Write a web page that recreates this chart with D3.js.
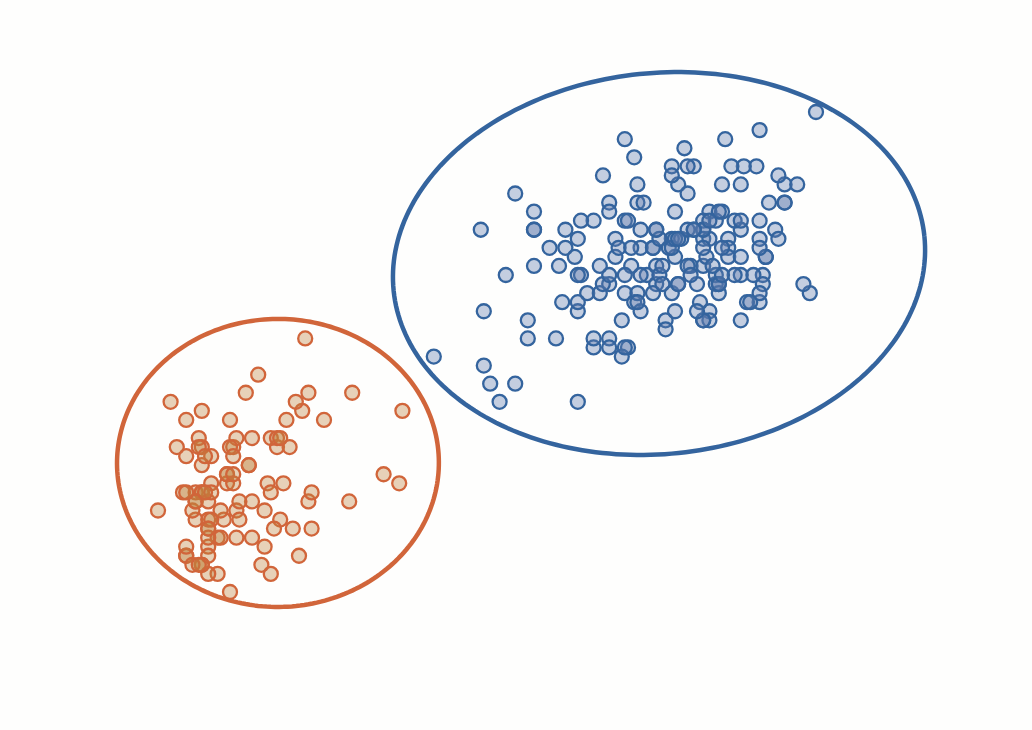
<!DOCTYPE html>
<html>
<head>
<meta charset="utf-8">
<script src="https://cdn.jsdelivr.net/npm/d3@7"></script>
<style>
  body { margin: 0; background: #fefefd; }
  svg { display: block; }
</style>
</head>
<body>
<div id="chart"></div>
<script>

// eruption length (min) and waiting time (min), one entry per eruption
var eruptions = [
  3.600,1.800,3.333,2.283,4.533,2.883,4.700,3.600,1.950,4.350,
  1.833,3.917,4.200,1.750,4.700,2.167,1.750,4.800,1.600,4.250,
  1.800,1.750,3.450,3.067,4.533,3.600,1.967,4.083,3.850,4.433,
  4.300,4.467,3.367,4.033,3.833,2.017,1.867,4.833,1.833,4.783,
  4.350,1.883,4.567,1.750,4.533,3.317,3.833,2.100,4.633,2.000,
  4.800,4.716,1.833,4.833,1.733,4.883,3.717,1.667,4.567,4.317,
  2.233,4.500,1.750,4.800,1.817,4.400,4.167,4.700,2.067,4.700,
  4.033,1.967,4.500,4.000,1.983,5.067,2.017,4.567,3.883,3.600,
  4.133,4.333,4.100,2.633,4.067,4.933,3.950,4.517,2.167,4.000,
  2.200,4.333,1.867,4.817,1.833,4.300,4.667,3.750,1.867,4.900,
  2.483,4.367,2.100,4.500,4.050,1.867,4.700,1.783,4.850,3.683,
  4.733,2.300,4.900,4.417,1.700,4.633,2.317,4.600,1.817,4.417,
  2.617,4.067,4.250,1.967,4.600,3.767,1.917,4.500,2.267,4.650,
  1.867,4.167,2.800,4.333,1.833,4.383,1.883,4.933,2.033,3.733,
  4.233,2.233,4.533,4.817,4.333,1.983,4.633,2.017,5.100,1.800,
  5.033,4.000,2.400,4.600,3.567,4.000,4.500,4.083,1.800,3.967,
  2.200,4.150,2.000,3.833,3.500,4.583,2.367,5.000,1.933,4.617,
  1.917,2.083,4.583,3.333,4.167,4.333,4.500,2.417,4.000,4.167,
  1.883,4.583,4.250,3.767,2.033,4.433,4.083,1.833,4.417,2.183,
  4.800,1.833,4.800,4.100,3.966,4.233,3.500,4.366,2.250,4.667,
  2.100,4.350,4.133,1.867,4.600,1.783,4.367,3.850,1.933,4.500,
  2.383,4.700,1.867,3.833,3.417,4.233,2.400,4.800,2.000,4.150,
  1.867,4.267,1.750,4.483,4.000,4.117,4.083,4.267,3.917,4.550,
  4.083,2.417,4.183,2.217,4.450,1.883,1.850,4.283,3.950,2.333,
  4.150,2.350,4.933,2.900,4.583,3.833,2.083,4.367,2.133,4.350,
  2.200,4.450,3.567,4.500,4.150,3.817,3.917,4.450,2.000,4.283,
  4.767,4.533,1.850,4.250,1.983,2.250,4.750,4.117,2.150,4.417,
  1.817,4.467
];

var waiting = [
  79,54,74,62,85,55,88,85,51,85,
  54,84,78,47,83,52,62,84,52,79,
  51,47,78,69,74,83,55,76,78,79,
  73,77,66,80,74,52,48,80,59,90,
  80,58,84,58,73,83,64,53,82,59,
  75,90,54,80,54,83,71,64,77,81,
  59,84,48,82,60,92,78,78,65,73,
  82,56,79,71,62,76,60,78,76,83,
  75,82,70,65,73,88,76,80,48,86,
  60,90,50,78,63,72,84,75,51,82,
  62,88,49,83,81,47,84,52,86,81,
  75,59,89,79,59,81,50,85,59,87,
  53,69,77,56,88,81,45,82,55,90,
  45,83,56,89,46,82,51,86,53,79,
  81,60,82,77,76,59,80,49,96,53,
  77,77,65,81,71,70,81,93,53,89,
  45,86,58,78,66,76,63,88,52,93,
  49,57,77,68,81,81,73,50,85,74,
  55,77,83,83,51,78,84,46,83,55,
  81,57,76,84,77,81,87,77,51,78,
  60,82,91,53,78,46,77,84,49,83,
  71,80,49,75,64,76,53,94,55,76,
  50,82,54,75,78,79,78,78,70,79,
  70,54,86,50,90,54,54,77,79,64,
  75,47,86,63,85,82,57,82,67,74,
  54,83,73,73,88,80,71,83,56,79,
  78,84,58,83,43,60,75,81,46,90,
  46,74
];

// cluster labels: short eruptions vs long eruptions
var clusters = ["short", "long"];
var clusterCut = 3;

// cluster outline ellipses, in data units
var ellipseCenterX = [2.238, 4.265];   // eruption minutes
var ellipseCenterY = [57.25, 79.27];   // waiting minutes
var ellipseRadiusX = [0.856, 1.419];
var ellipseRadiusY = [15.9, 21.03];
var ellipseTilt    = [-0.5, -5.9];     // degrees

var width = 1032, height = 730;

var colors = {
  short: {stroke: "#d1653a", fill: "rgb(190,130,62)"},
  long:  {stroke: "#34649e", fill: "rgb(93,121,171)"}
};

var data = eruptions.map(function(e, i) {
  return {x: e, y: waiting[i], cluster: e < clusterCut ? "short" : "long"};
});

var ellipses = clusters.map(function(cl, i) {
  return {cluster: cl, cx: ellipseCenterX[i], cy: ellipseCenterY[i],
          rx: ellipseRadiusX[i], ry: ellipseRadiusY[i], tilt: ellipseTilt[i]};
});

// scales
var xScale = d3.scaleLinear().domain([1.6, 5.1]).range([158, 816]);
var yScale = d3.scaleLinear().domain([43, 96]).range([592, 112]);

var svg = d3.select("#chart").append("svg")
  .attr("width", width)
  .attr("height", height);

svg.append("rect")
  .attr("width", width)
  .attr("height", height)
  .attr("fill", "#fefefd");

// points
svg.append("g")
  .attr("class", "points")
  .selectAll("circle")
  .data(data)
  .enter().append("circle")
  .attr("cx", function(d) { return xScale(d.x); })
  .attr("cy", function(d) { return yScale(d.y); })
  .attr("r", 7)
  .attr("fill", function(d) { return colors[d.cluster].fill; })
  .attr("fill-opacity", 0.36)
  .attr("stroke", function(d) { return colors[d.cluster].stroke; })
  .attr("stroke-width", 2.3);

// cluster ellipses
var line = d3.line()
  .x(function(d) { return xScale(d[0]); })
  .y(function(d) { return yScale(d[1]); });

function ellipsePath(e) {
  var pts = d3.range(0, 241).map(function(i) {
    var t = i * 2 * Math.PI / 240;
    return [e.cx + e.rx * Math.cos(t), e.cy + e.ry * Math.sin(t)];
  });
  return line(pts);
}

svg.append("g")
  .attr("class", "ellipses")
  .selectAll("path")
  .data(ellipses)
  .enter().append("path")
  .attr("d", ellipsePath)
  .attr("transform", function(e) {
    return "rotate(" + e.tilt + "," + xScale(e.cx) + "," + yScale(e.cy) + ")";
  })
  .attr("fill", "none")
  .attr("stroke", function(e) { return colors[e.cluster].stroke; })
  .attr("stroke-width", 4.5);

</script>
</body>
</html>
